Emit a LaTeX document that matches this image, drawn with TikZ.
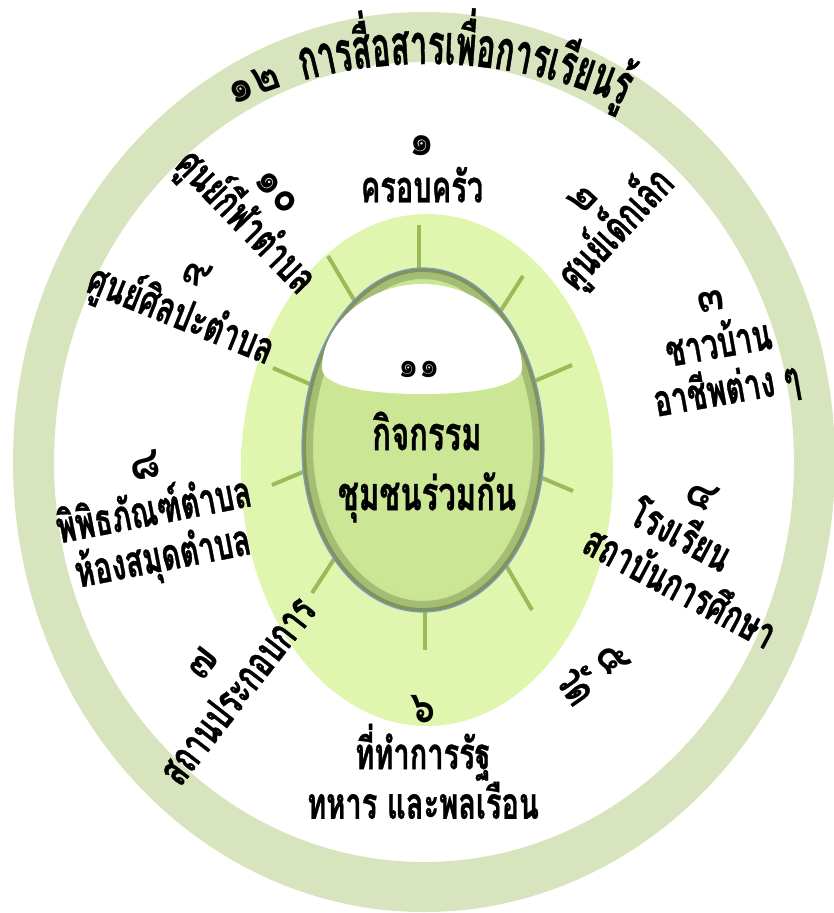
\documentclass[tikz,border=0pt]{standalone}
\usepackage{fontspec}
\usetikzlibrary{decorations.text}
\newfontfamily\thaifont[Script=Thai,FakeStretch=0.66,BoldFeatures={FakeBold=0.7}]{Loma}
\newfontfamily\thaiarc[Script=Thai,FakeStretch=0.55,BoldFeatures={FakeBold=0.7}]{Loma}
\newfontfamily\thainum[Script=Thai,FakeStretch=0.9]{Loma}
\newcommand{\num}[1]{{\thainum\bfseries #1}}
\definecolor{ringgreen}{HTML}{D7E4BD}
\definecolor{spokegreen}{HTML}{9BBB59}
\definecolor{glowin}{HTML}{E0F5AE}
\definecolor{glowmid}{HTML}{E8F8C6}
\definecolor{glowout}{HTML}{F3FBE0}
\definecolor{eggin}{HTML}{CBE795}
\definecolor{eggmid}{HTML}{B7D37D}
\definecolor{eggdark}{HTML}{9DB665}
\definecolor{eggout}{HTML}{7C8F4F}
\definecolor{eggline}{HTML}{7B9CC8}
\pgfdeclareradialshading{glowshade}{\pgfpoint{0bp}{0bp}}{color(0bp)=(glowin); color(28bp)=(glowin); color(40bp)=(glowmid); color(46bp)=(glowout); color(50bp)=(white)}
\pgfdeclareradialshading{eggshade}{\pgfpoint{0bp}{0bp}}{color(0bp)=(eggin); color(22bp)=(eggin); color(38bp)=(eggmid); color(46bp)=(eggdark); color(50bp)=(eggout)}
\newcommand{\lblfont}{\thaifont\bfseries\fontsize{44}{47}\selectfont}
\newcommand{\eggpath}{(302,448) arc[start angle=180, end angle=360, x radius=121, y radius=180] arc[start angle=0, end angle=180, x radius=121, y radius=164] -- cycle}

\begin{document}
\begin{tikzpicture}[x=1pt,y=-1pt,
    lbl/.style={font=\lblfont, align=center, inner sep=0pt},
    spoke/.style={spokegreen, line width=4pt}]
    \useasboundingbox (0,0) rectangle (833,913);
    % ring
    \fill[ringgreen, even odd rule] (424,462) ellipse [x radius=411, y radius=450]
        (424,462) ellipse [x radius=370, y radius=400];
    \path[decorate, decoration={text along path, text align=center,
        text={|\thainum\bfseries\fontsize{46}{60}\selectfont|๑๒|\thaiarc\bfseries\fontsize{56}{60}\selectfont|{\ }{\ }การ{สื่}อสารเ{พื่}อการเ{รี}ยน{รู้}}}]
        (428,544) ++(-124:480) arc[start angle=-124, end angle=-56, radius=480];
    % glow and spokes
    \shade[shading=glowshade] (427,470) ellipse [x radius=186, y radius=256];
    \foreach \xa/\ya/\xb/\yb in {419/280/419/225, 498/315/523/276, 530/383/572/365,
        535/475/573/491, 500/555/532/610, 425/600/425/650, 340/550/312/593,
        310/469/272/485, 312/385/273/368, 357/305/328/256}
    \draw[spoke] (\xa,\ya) -- (\xb,\yb);
    % egg
    \shade[shading=eggshade] \eggpath;
    \begin{scope}
        \clip \eggpath;
        \draw[line width=22pt, eggout!80!black, opacity=.35] \eggpath;
        \draw[line width=8pt, eggout!70!black, opacity=.45] \eggpath;
    \end{scope}
    \fill[white] (322,368) .. controls (322,326) and (366,284) .. (422,284)
        .. controls (478,284) and (522,326) .. (522,368)
        .. controls (522,386) and (478,394) .. (422,394)
        .. controls (366,394) and (322,386) .. (322,368) -- cycle;
    \draw[eggline, line width=1.2pt] \eggpath;
    \node[lbl, font=\thainum\bfseries\fontsize{36}{47}\selectfont] (num11) at (419,369) {๑๑};
    \node[lbl, font=\thaifont\bfseries\fontsize{47}{60}\selectfont] (activity) at (427,467) {กิจกรรม\\ชุมชนร่วมกัน};
    % labels round the egg
    \node[lbl] (family) at (422,169) {\num{๑}\\ครอบครัว};
    \node[lbl, rotate=47] (nursery) at (604,218) {\num{๒}\\ศูนย์เด็กเล็ก};
    \node[lbl, rotate=10] (villagers) at (720,352) {\num{๓}\\ชาวบ้าน\\อาชีพต่าง ๆ};
    \node[lbl, rotate=-28] (school) at (680,536) {\num{๔}\\โรงเรียน\\\hspace*{48pt}สถาบันการศึกษา};
    \node[lbl, rotate=-55] (temple) at (594,673) {\num{๕}\\วัด};
    \node[lbl] (office) at (423,757) {\num{๖}\\ที่ทำการรัฐ\\ทหาร และพลเรือน};
    \node[lbl, rotate=52] (business) at (221,678) {\num{๗}\\สถานประกอบการ};
    \node[lbl, rotate=11] (museum) at (155,517) {\num{๘}\\พิพิธภัณฑ์ตำบล\\ห้องสมุดตำบล};
    \node[lbl, rotate=-22] (artcenter) at (187,300) {\num{๙}\\ศูนย์ศิลปะตำบล};
    \node[lbl, rotate=-46] (sportcenter) at (256,212) {\num{๑๐}\\ศูนย์กีฬาตำบล};
\end{tikzpicture}
\end{document}
